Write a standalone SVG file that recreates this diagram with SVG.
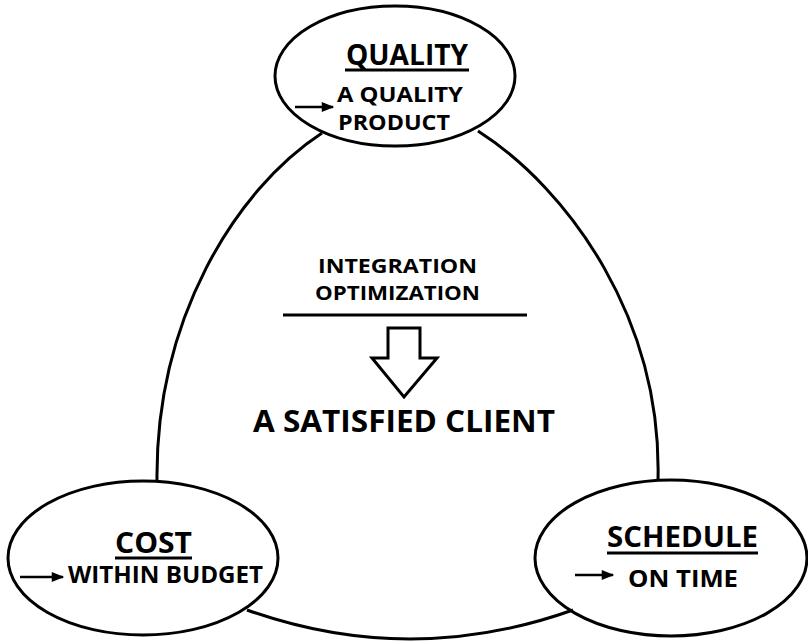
<svg xmlns="http://www.w3.org/2000/svg" width="808" height="641" viewBox="0 0 808 641">
<style>
.sh{fill:none;stroke:#000;stroke-width:3}
.t{font-family:"Open Sans","Liberation Sans",sans-serif;font-weight:bold;fill:#000}
.ul{stroke:#000;stroke-width:3}
.ar{stroke:#000;stroke-width:2.5}
</style>
<defs>
<marker id="ah" viewBox="0 0 10 10" refX="9" refY="5" markerWidth="6" markerHeight="5" orient="auto" markerUnits="strokeWidth">
<path d="M0,1 L10,5 L0,9 Z" fill="#000"/>
</marker>
</defs>
<rect width="808" height="641" fill="#fff"/>
<g id="connectors">
<path class="sh" d="M322,133 C235,190 155,320 157,482"/>
<path class="sh" d="M478,131 C570,190 662,320 658,480"/>
<path class="sh" d="M247,610 Q410,668 573,610"/>
</g>
<g id="quality">
<ellipse class="sh" cx="395" cy="76" rx="120" ry="70"/>
<text class="t" x="407" y="65" font-size="29" text-anchor="middle" textLength="122" lengthAdjust="spacingAndGlyphs">QUALITY</text>
<line class="ul" x1="345" y1="70" x2="469" y2="70"/>
<line class="ar" x1="295" y1="107" x2="333" y2="107" marker-end="url(#ah)"/>
<text class="t" x="337" y="102" font-size="22" textLength="126" lengthAdjust="spacingAndGlyphs">A QUALITY</text>
<text class="t" x="338" y="130" font-size="22" textLength="112" lengthAdjust="spacingAndGlyphs">PRODUCT</text>
</g>
<g id="center">
<text class="t" x="318" y="273" font-size="20" textLength="159" lengthAdjust="spacingAndGlyphs">INTEGRATION</text>
<text class="t" x="315" y="300" font-size="20" textLength="165" lengthAdjust="spacingAndGlyphs">OPTIMIZATION</text>
<line class="ul" x1="283" y1="315" x2="527" y2="315"/>
<path class="sh" d="M388,328 L420,328 L420,358 L437,358 L404,397 L372,358 L388,358 Z"/>
<text class="t" x="253" y="432" font-size="31" textLength="302" lengthAdjust="spacingAndGlyphs">A SATISFIED CLIENT</text>
</g>
<g id="cost">
<ellipse class="sh" cx="143" cy="558" rx="135" ry="77"/>
<text class="t" x="115" y="553" font-size="29" textLength="77" lengthAdjust="spacingAndGlyphs">COST</text>
<line class="ul" x1="115" y1="558" x2="192" y2="558"/>
<line class="ar" x1="20" y1="577" x2="63" y2="577" marker-end="url(#ah)"/>
<text class="t" x="68" y="583" font-size="23" textLength="195" lengthAdjust="spacingAndGlyphs">WITHIN BUDGET</text>
</g>
<g id="schedule">
<ellipse class="sh" cx="671" cy="558" rx="136" ry="78"/>
<text class="t" x="607" y="547" font-size="29" textLength="151" lengthAdjust="spacingAndGlyphs">SCHEDULE</text>
<line class="ul" x1="607" y1="553" x2="758" y2="553"/>
<line class="ar" x1="575" y1="575" x2="613" y2="575" marker-end="url(#ah)"/>
<text class="t" x="628" y="587" font-size="23" textLength="110" lengthAdjust="spacingAndGlyphs">ON TIME</text>
</g>
</svg>
